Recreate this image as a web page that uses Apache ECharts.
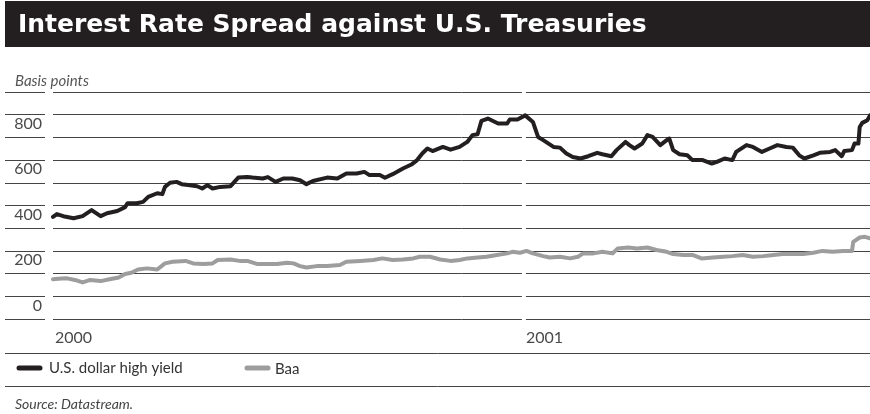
<!DOCTYPE html>
<html>
<head>
<meta charset="utf-8">
<script src="https://cdn.jsdelivr.net/npm/echarts@6/dist/echarts.min.js"></script>
<style>
  html, body { margin: 0; padding: 0; background: #fff; }
  #chart { width: 870px; height: 414px; }
</style>
</head>
<body>
<div id="chart"></div>
<script>
// U.S. dollar high-yield spread over Treasuries, basis points
const hyDates = [
  '2000-01-01','2000-01-04','2000-01-09','2000-01-17','2000-01-24','2000-01-31','2000-02-07','2000-02-12',
  '2000-02-20','2000-02-26','2000-02-28','2000-03-06','2000-03-11','2000-03-15','2000-03-22','2000-03-26',
  '2000-03-28','2000-04-01','2000-04-06','2000-04-10','2000-04-15','2000-04-22','2000-04-26','2000-04-30',
  '2000-05-04','2000-05-10','2000-05-18','2000-05-24','2000-05-31','2000-06-04','2000-06-12','2000-06-16',
  '2000-06-22','2000-06-28','2000-07-05','2000-07-11','2000-07-16','2000-07-21','2000-08-01','2000-08-09',
  '2000-08-16','2000-08-24','2000-08-30','2000-09-03','2000-09-11','2000-09-15','2000-09-21','2000-09-29',
  '2000-10-06','2000-10-10','2000-10-14','2000-10-18','2000-10-22','2000-10-30','2000-11-05','2000-11-12',
  '2000-11-18','2000-11-22','2000-11-26','2000-11-29','2000-12-04','2000-12-12','2000-12-19','2000-12-21',
  '2000-12-27','2001-01-02','2001-01-08','2001-01-12','2001-01-16','2001-01-24','2001-01-29','2001-02-03',
  '2001-02-08','2001-02-14','2001-02-20','2001-02-27','2001-03-03','2001-03-10','2001-03-14','2001-03-21',
  '2001-03-24','2001-03-28','2001-04-03','2001-04-07','2001-04-11','2001-04-17','2001-04-22','2001-04-24',
  '2001-04-27','2001-05-02','2001-05-08','2001-05-12','2001-05-20','2001-05-27','2001-05-31','2001-06-06',
  '2001-06-12','2001-06-15','2001-06-23','2001-06-28','2001-07-05','2001-07-11','2001-07-17','2001-07-24',
  '2001-07-29','2001-08-03','2001-08-07','2001-08-14','2001-08-19','2001-08-27','2001-08-31','2001-09-05',
  '2001-09-07','2001-09-13','2001-09-15','2001-09-18','2001-09-19','2001-09-21','2001-09-25','2001-09-27'
];
const hyValues = [
  450,462,453,444,453,480,453,466,
  476,493,510,510,516,538,554,550,
  582,600,604,594,590,585,575,590,
  575,582,585,623,626,623,619,625,
  604,619,619,611,594,608,623,619,
  641,641,648,634,634,622,638,663,
  682,700,729,751,740,758,746,758,
  780,810,814,873,883,861,861,879,
  879,897,868,802,788,758,755,729,
  714,707,717,732,726,717,744,780,
  766,751,773,810,802,766,788,795,
  744,726,721,700,700,685,692,707,
  700,736,766,758,736,751,766,758,
  755,721,707,721,732,736,744,717,
  740,744,773,773,846,864,876,897
];

// Baa corporate spread over Treasuries, basis points
const baaDates = [
  '2000-01-01','2000-01-05','2000-01-12','2000-01-18','2000-01-24','2000-01-30','2000-02-07','2000-02-14',
  '2000-02-21','2000-02-26','2000-03-02','2000-03-07','2000-03-14','2000-03-22','2000-03-28','2000-04-03',
  '2000-04-13','2000-04-19','2000-04-27','2000-05-04','2000-05-08','2000-05-18','2000-05-25','2000-05-31',
  '2000-06-08','2000-06-15','2000-06-23','2000-07-01','2000-07-06','2000-07-11','2000-07-16','2000-07-24',
  '2000-08-01','2000-08-11','2000-08-16','2000-08-27','2000-09-06','2000-09-13','2000-09-21','2000-09-29',
  '2000-10-07','2000-10-12','2000-10-20','2000-10-28','2000-11-05','2000-11-12','2000-11-18','2000-11-26',
  '2000-12-03','2000-12-11','2000-12-19','2000-12-23','2000-12-29','2001-01-03','2001-01-08','2001-01-16',
  '2001-01-21','2001-01-29','2001-02-06','2001-02-12','2001-02-16','2001-02-24','2001-03-03','2001-03-11',
  '2001-03-15','2001-03-23','2001-03-30','2001-04-07','2001-04-14','2001-04-22','2001-04-27','2001-05-05',
  '2001-05-12','2001-05-19','2001-05-28','2001-06-05','2001-06-12','2001-06-20','2001-06-28','2001-07-06',
  '2001-07-14','2001-07-21','2001-07-29','2001-08-06','2001-08-14','2001-08-21','2001-08-29','2001-09-06',
  '2001-09-13','2001-09-14','2001-09-19','2001-09-23','2001-09-27'
];
const baaValues = [
  175,177,179,172,161,172,167,175,
  183,198,204,218,223,218,245,252,
  256,245,242,245,260,262,256,256,
  242,242,242,248,245,233,227,233,
  233,238,252,256,260,267,260,262,
  267,274,274,262,256,260,267,271,
  274,282,289,296,292,300,289,277,
  271,274,267,274,289,289,296,289,
  311,315,311,315,304,296,286,282,
  282,267,271,274,277,282,274,277,
  282,286,286,286,292,300,296,300,
  300,340,359,362,355
];

const seriesNames = ['U.S. dollar high yield', 'Baa'];
const yTickLabels = [0, 200, 400, 600, 800];
const yearStarts = ['2000-01-01', '2001-01-01'];
const axisEnd = '2001-09-27';

const INK = '#231f20';
const GREY_LINE = '#9d9d9d';
const RULE = '#444444';
const FONT = 'Lato, "Open Sans", sans-serif';

const zip = (xs, ys) => xs.map((x, i) => [x, ys[i]]);

const chart = echarts.init(document.getElementById('chart'), null, { renderer: 'canvas' });

const yCommon = {
  type: 'value', min: 0, max: 1000, interval: 100,
  axisLine: { show: false }, axisTick: { show: false },
  splitLine: { show: true, lineStyle: { color: RULE, width: 1 } }
};

chart.setOption({
  animation: false,
  backgroundColor: '#ffffff',
  grid: [
    { left: 5, width: 40, top: 92, height: 227 },   // label column
    { left: 53, right: 0, top: 92, height: 227 }    // plot area
  ],
  xAxis: [
    { gridIndex: 0, type: 'value', show: false, min: 0, max: 1 },
    {
      gridIndex: 1, type: 'time', min: yearStarts[0], max: axisEnd,
      minInterval: 365 * 24 * 3600 * 1000,
      axisLine: { show: false }, axisTick: { show: false }, splitLine: { show: false },
      axisLabel: {
        formatter: '{yyyy}', align: 'left', margin: 11, padding: [0, 0, 0, 2],
        color: '#4a4a4a', fontSize: 16, fontFamily: FONT,
        showMaxLabel: false
      }
    }
  ],
  yAxis: [
    Object.assign({}, yCommon, {
      gridIndex: 0, position: 'right',
      axisLabel: {
        inside: true, margin: 3, color: '#4a4a4a', fontSize: 16, fontFamily: FONT,
        verticalAlign: 'bottom', lineHeight: 27,
        formatter: v => (yTickLabels.indexOf(v) >= 0 ? String(v) : '')
      }
    }),
    Object.assign({}, yCommon, { gridIndex: 1, axisLabel: { show: false } })
  ],
  series: [
    {
      name: seriesNames[1], type: 'line', xAxisIndex: 1, yAxisIndex: 1,
      data: zip(baaDates, baaValues), showSymbol: false, symbol: 'none',
      lineStyle: { color: GREY_LINE, width: 4, join: 'round', cap: 'round' }, z: 3
    },
    {
      name: seriesNames[0], type: 'line', xAxisIndex: 1, yAxisIndex: 1,
      data: zip(hyDates, hyValues), showSymbol: false, symbol: 'none',
      lineStyle: { color: INK, width: 4, join: 'round', cap: 'round' }, z: 4
    }
  ]
});

// Year break in the rules and the page furniture around the plot
const gapX = chart.convertToPixel({ xAxisIndex: 1 }, yearStarts[1]);
chart.setOption({
  graphic: [
    { type: 'rect', z: 1, shape: { x: gapX - 2, y: 85, width: 4, height: 240 }, style: { fill: '#ffffff' } },
    { type: 'rect', shape: { x: 5, y: 1, width: 865, height: 46 }, style: { fill: INK } },
    { type: 'text', style: { text: 'Interest Rate Spread against U.S. Treasuries', x: 18, y: 25,
        textVerticalAlign: 'middle', fill: '#ffffff', font: 'bold 25px "DejaVu Sans", sans-serif' } },
    { type: 'text', style: { text: 'Basis points', x: 15, y: 81, textVerticalAlign: 'middle',
        fill: '#555555', font: 'italic 15px ' + FONT } },
    { type: 'line', shape: { x1: 5, y1: 353.5, x2: 870, y2: 353.5 }, style: { stroke: RULE, lineWidth: 1 } },
    { type: 'line', shape: { x1: 19, y1: 368, x2: 40, y2: 368 }, style: { stroke: INK, lineWidth: 5, lineCap: 'round' } },
    { type: 'text', style: { text: seriesNames[0], x: 49, y: 368, textVerticalAlign: 'middle',
        fill: '#333333', font: '15px ' + FONT } },
    { type: 'line', shape: { x1: 247, y1: 368, x2: 268, y2: 368 }, style: { stroke: GREY_LINE, lineWidth: 5, lineCap: 'round' } },
    { type: 'text', style: { text: seriesNames[1], x: 275, y: 369, textVerticalAlign: 'middle',
        fill: '#333333', font: '15px ' + FONT } },
    { type: 'line', shape: { x1: 5, y1: 386.5, x2: 870, y2: 386.5 }, style: { stroke: RULE, lineWidth: 1 } },
    { type: 'text', style: { text: 'Source: Datastream.', x: 15, y: 404, textVerticalAlign: 'middle',
        fill: '#444444', font: 'italic 14px ' + FONT } }
  ]
});
</script>
</body>
</html>
